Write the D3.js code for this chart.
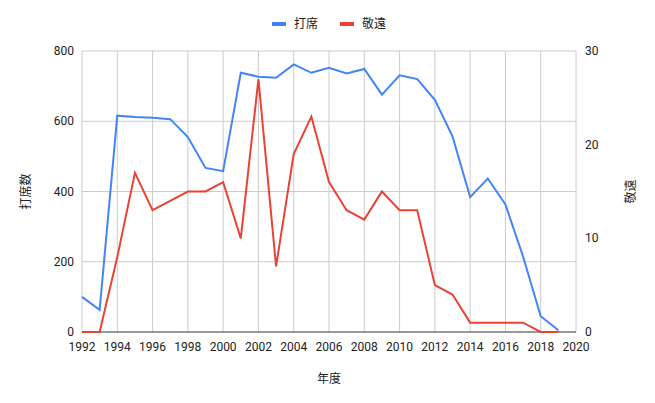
<!DOCTYPE html>
<html><head><meta charset="utf-8">
<script src="https://cdn.jsdelivr.net/npm/d3@7"></script>
<style>body{margin:0;background:#fff;font-family:Roboto,"Noto Sans CJK JP",sans-serif}</style>
</head><body><svg id="c" width="655" height="403"></svg>
<script>
const years=d3.range(1992,2020);
const atBats=[100,63,616,612,610,606,555,467,458,738,727,724,762,738,752,736,749,676,731,720,661,557,384,437,363,215,45,5];
const steals=[0,0,8,17,13,14,15,15,16,10,27,7,19,23,16,13,12,15,13,13,5,4,1,1,1,1,0,0];
const xTicks=d3.range(1992,2021,2);
const leftTicks=[0,200,400,600,800];
const rightTicks=[0,10,20,30];
const names=["打席","敬遠"];
const colors=["#4285f4","#ea4335"];

const svg=d3.select("#c");
const m={l:82,r:576,t:51,b:332};
const x=d3.scaleLinear().domain([1992,2020]).range([m.l,m.r]);
const yL=d3.scaleLinear().domain([0,800]).range([m.b,m.t]);
const yR=d3.scaleLinear().domain([0,30]).range([m.b,m.t]);
const g=svg.append("g");
g.selectAll(".vg").data(xTicks).join("line").attr("x1",d=>x(d)).attr("x2",d=>x(d)).attr("y1",m.t).attr("y2",m.b).attr("stroke","#ccc");
g.selectAll(".hg").data(leftTicks).join("line").attr("x1",m.l).attr("x2",m.r).attr("y1",d=>yL(d)).attr("y2",d=>yL(d)).attr("stroke",d=>d===0?"#333":"#ccc");
const txt={"font-size":12,"fill":"#222"};
function T(sel){Object.entries(txt).forEach(([k,v])=>sel.attr(k,v));return sel;}
T(g.selectAll(".xt").data(xTicks).join("text").attr("x",d=>x(d)).attr("y",351).attr("text-anchor","middle").text(d=>d));
T(g.selectAll(".lt").data(leftTicks).join("text").attr("x",m.l-8).attr("y",d=>yL(d)+4).attr("text-anchor","end").text(d=>d));
T(g.selectAll(".rt").data(rightTicks).join("text").attr("x",m.r+9).attr("y",d=>yR(d)+4).attr("text-anchor","start").text(d=>d));
T(svg.append("text").attr("x",(m.l+m.r)/2).attr("y",383).attr("text-anchor","middle").text("年度"));
T(svg.append("text").attr("transform",`translate(30,${(m.t+m.b)/2}) rotate(-90)`).attr("text-anchor","middle").text("打席数"));
T(svg.append("text").attr("transform",`translate(635,${(m.t+m.b)/2}) rotate(-90)`).attr("text-anchor","middle").text("敬遠"));
const line1=d3.line().x((d,i)=>x(years[i])).y(d=>yL(d));
const line2=d3.line().x((d,i)=>x(years[i])).y(d=>yR(d));
svg.append("path").attr("d",line1(atBats)).attr("fill","none").attr("stroke",colors[0]).attr("stroke-width",2);
svg.append("path").attr("d",line2(steals)).attr("fill","none").attr("stroke",colors[1]).attr("stroke-width",2);
const lx=[272,340];
names.forEach((n,i)=>{
 svg.append("line").attr("x1",lx[i]).attr("x2",lx[i]+14).attr("y1",24).attr("y2",24).attr("stroke",colors[i]).attr("stroke-width",4);
 T(svg.append("text").attr("x",lx[i]+22).attr("y",28).text(n));
});
</script></body></html>
